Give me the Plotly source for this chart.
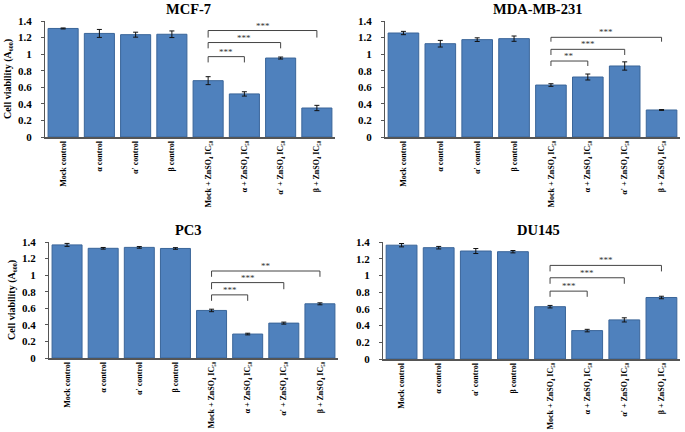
import plotly.graph_objects as go

categories = ["Mock control", "α control", "α' control", "β control",
              "Mock + ZnSO₄ IC₅₀", "α + ZnSO₄ IC₅₀",
              "α' + ZnSO₄ IC₅₀", "β + ZnSO₄ IC₅₀"]

panel_titles = ["MCF-7", "MDA-MB-231", "PC3", "DU145"]

mcf7_vals = [1.31, 1.25, 1.235, 1.24, 0.68, 0.52, 0.953, 0.35]
mcf7_err = [0.006, 0.048, 0.03, 0.04, 0.048, 0.026, 0.012, 0.032]
mda_vals = [1.255, 1.126, 1.175, 1.187, 0.627, 0.724, 0.857, 0.326]
mda_err = [0.02, 0.04, 0.022, 0.032, 0.016, 0.036, 0.05, 0.005]
pc3_vals = [1.365, 1.324, 1.335, 1.322, 0.574, 0.289, 0.421, 0.654]
pc3_err = [0.018, 0.01, 0.01, 0.01, 0.015, 0.01, 0.012, 0.012]
du145_vals = [1.362, 1.332, 1.292, 1.284, 0.626, 0.34, 0.468, 0.736]
du145_err = [0.02, 0.015, 0.03, 0.014, 0.015, 0.015, 0.025, 0.015]

# significance brackets: (from index, to index, bracket y, leg bottom y, label)
mcf7_sig = [(4, 5, 0.97, 0.90, "***"), (4, 6, 1.14, 1.07, "***"), (4, 7, 1.285, 1.20, "***")]
mda_sig = [(4, 5, 0.917, 0.857, "**"), (4, 6, 1.058, 0.99, "***"), (4, 7, 1.203, 1.15, "***")]
pc3_sig = [(4, 5, 0.762, 0.69, "***"), (4, 6, 0.91, 0.83, "***"), (4, 7, 1.05, 0.98, "**")]
du145_sig = [(4, 5, 0.812, 0.744, "***"), (4, 6, 0.972, 0.90, "***"), (4, 7, 1.12, 1.048, "***")]

y_ticks = [0, 0.2, 0.4, 0.6, 0.8, 1.0, 1.2, 1.4]
y_ticktext = ["0", "0.2", "0.4", "0.6", "0.8", "1", "1.2", "1.4"]

W, H = 685, 432
panels = [
    (mcf7_vals, mcf7_err, mcf7_sig, (45, 335), (21, 137)),
    (mda_vals, mda_err, mda_sig, (385, 680), (21, 137)),
    (pc3_vals, pc3_err, pc3_sig, (49, 338), (242, 358)),
    (du145_vals, du145_err, du145_sig, (383, 680), (242, 359)),
]
title_pos = [(188, 9), (537, 9), (188, 230), (538, 230)]

FONT = "Liberation Serif"
fig = go.Figure()
layout = {}
shapes = []
annotations = []
for i, (vals, errs, sig, (x0, x1), (yt, yb)) in enumerate(panels):
    n = "" if i == 0 else str(i + 1)
    fig.add_trace(go.Bar(
        x=categories, y=vals, xaxis="x" + n, yaxis="y" + n,
        marker=dict(color="#4f81bd", line=dict(color="#3a6599", width=1)),
        error_y=dict(type="data", array=errs, color="#111111", thickness=1, width=2.5),
        showlegend=False, hoverinfo="skip",
    ))
    layout["xaxis" + n] = dict(
        domain=[x0 / W, x1 / W], anchor="y" + n, type="category", automargin=False,
        tickangle=-90, showline=True, linecolor="#555555", linewidth=1.5,
        ticks="", showgrid=False, ticklabelstandoff=-1,
        tickfont=dict(family=FONT, size=8, color="black", weight="bold"),
        range=[-0.5, 7.5],
    )
    layout["yaxis" + n] = dict(
        domain=[1 - yb / H, 1 - yt / H], anchor="x" + n, range=[0, 1.4], automargin=False,
        tickvals=y_ticks, ticktext=y_ticktext, showline=True, linecolor="#555555", linewidth=1,
        ticks="outside", ticklen=3, tickcolor="#555555", showgrid=False, zeroline=False,
        ticklabelstandoff=7,
        tickfont=dict(family=FONT, size=11, color="black", weight="bold"),
    )
    if i in (0, 2):
        layout["yaxis" + n]["title"] = dict(
            text="Cell viability (A₆₀₀)",
            font=dict(family=FONT, size=10, color="black", weight="bold"), standoff=4)
    xr = "x" + n
    yr = "y" + n
    for a, b, yl, ylow, lab in sig:
        ca, cb = categories[a], categories[b]
        shapes.append(dict(type="line", xref=xr, yref=yr, x0=ca, x1=cb, y0=yl, y1=yl,
                           line=dict(color="#444444", width=1)))
        shapes.append(dict(type="line", xref=xr, yref=yr, x0=ca, x1=ca, y0=ylow, y1=yl,
                           line=dict(color="#444444", width=1)))
        shapes.append(dict(type="line", xref=xr, yref=yr, x0=cb, x1=cb, y0=ylow, y1=yl,
                           line=dict(color="#444444", width=1)))
        annotations.append(dict(xref=xr, yref=yr, x=(a + b) / 2, y=yl, text=lab,
                                showarrow=False, yanchor="bottom", yshift=-2,
                                font=dict(family=FONT, size=9, color="#333333")))
    tx, ty = title_pos[i]
    annotations.append(dict(xref="paper", yref="paper", x=tx / W, y=1 - ty / H,
                            text=panel_titles[i], showarrow=False,
                            xanchor="center", yanchor="middle",
                            font=dict(family=FONT, size=14.5, color="black", weight="bold")))

fig.update_layout(
    width=W, height=H, margin=dict(l=0, r=0, t=0, b=0),
    paper_bgcolor="white", plot_bgcolor="white", bargap=0.17,
    shapes=shapes, annotations=annotations, **layout,
)
fig.write_html("out.html", config={"displayModeBar": False},
               post_script="document.body.style.margin='0px';")
